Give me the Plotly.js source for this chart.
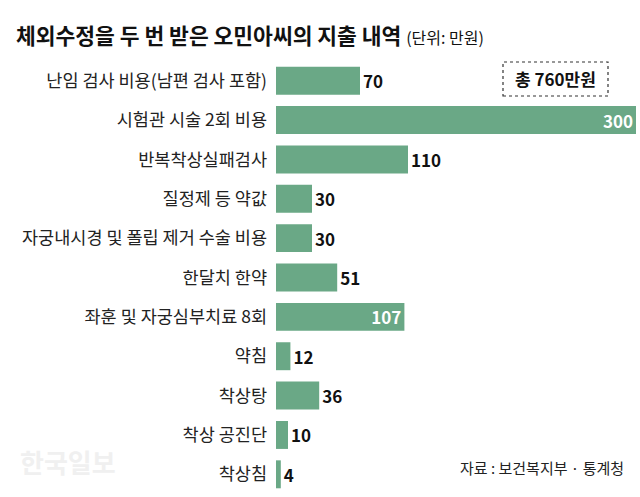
<!DOCTYPE html>
<html><head><meta charset="utf-8">
<script src="https://cdn.plot.ly/plotly-3.0.1.min.js"></script>
<style>body{margin:0;background:#fff}#c{width:640px;height:497px}</style>
</head><body><div id="c"></div>
<script>
const categories = ["난임 검사 비용(남편 검사 포함)","시험관 시술 2회 비용","반복착상실패검사","질정제 등 약값","자궁내시경 및 폴립 제거 수술 비용","한달치 한약","좌훈 및 자궁심부치료 8회","약침","착상탕","착상 공진단","착상침"];
const values = [70,300,110,30,30,51,107,12,36,10,4];
const insideLabels = ["시험관 시술 2회 비용","좌훈 및 자궁심부치료 8회"];
const titleText = "체외수정을 두 번 받은 오민아씨의 지출 내역";
const unitText = "(단위: 만원)";
const totalText = "총 760만원";
const sourceText = "자료 : 보건복지부 · 통계청";
const watermark = "한국일보";

const KR = '"Noto Sans CJK KR", "Noto Sans", sans-serif';
const pos = categories.map(c => insideLabels.includes(c) ? 'inside' : 'outside');
const tcol = categories.map(c => insideLabels.includes(c) ? '#ffffff' : '#111111');

Plotly.newPlot('c', [{
  type:'bar', orientation:'h', y:categories, x:values,
  marker:{color:'#6aa886'},
  text:values.map(String), textposition:pos, insidetextanchor:'end', constraintext:'none',
  textfont:{family:KR, size:17, color:tcol, weight:'bold'},
  cliponaxis:false, hoverinfo:'none'
}], {
  width:640, height:497,
  margin:{l:276, r:4, t:61, b:3},
  paper_bgcolor:'#fff', plot_bgcolor:'#fff',
  bargap:0.29,
  showlegend:false,
  xaxis:{range:[0,300], visible:false, fixedrange:true},
  yaxis:{autorange:'reversed', showgrid:false, zeroline:false, showline:false, ticks:'',
         ticklabelstandoff:8, tickfont:{family:KR, size:17.5, color:'#222'}},
  shapes:[{type:'rect', xref:'paper', yref:'paper', x0:(503-276)/360, x1:(608-276)/360,
           y0:(497-3-96)/433, y1:(497-3-62)/433, line:{color:'#333', width:1.2, dash:'dot'}, fillcolor:'rgba(0,0,0,0)'}],
  annotations:[
    {xref:'paper', yref:'paper', x:-262/360, y:(497-3-34)/433, xanchor:'left', yanchor:'middle', showarrow:false,
     text:'<b>'+titleText+'</b> <span style="font-size:16px;font-weight:normal">'+unitText+'</span>',
     font:{family:KR, size:21.5, color:'#111'}},
    {xref:'paper', yref:'paper', x:(555.5-276)/360, y:(497-3-79)/433, xanchor:'center', yanchor:'middle', showarrow:false,
     text:'<b>'+totalText+'</b>', font:{family:KR, size:17, color:'#111'}},
    {xref:'paper', yref:'paper', x:(626-276)/360, y:(497-3-467)/433, xanchor:'right', yanchor:'middle', showarrow:false,
     text:sourceText, font:{family:KR, size:15, color:'#222'}},
    {xref:'paper', yref:'paper', x:(18-276)/360, y:(497-3-461)/433, xanchor:'left', yanchor:'middle', showarrow:false,
     text:'<b>'+watermark+'</b>', font:{family:KR, size:26, color:'#f0f0f0'}}
  ]
}, {staticPlot:true});
</script></body></html>
